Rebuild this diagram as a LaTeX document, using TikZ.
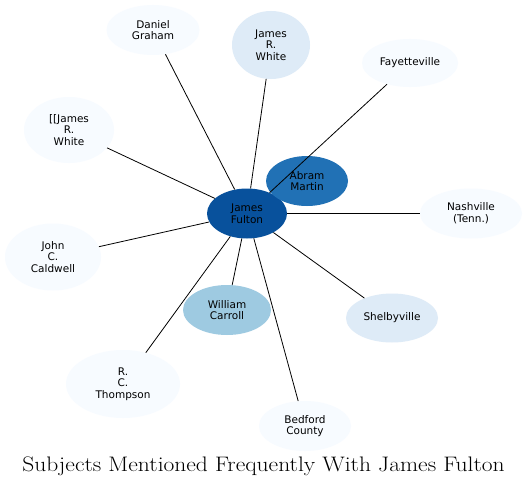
\documentclass[tikz,border=0pt]{standalone}
\usepackage{fontspec}
\newfontfamily\nodefont{DejaVu Sans}
\usetikzlibrary{shapes.geometric}
\definecolor{bluesa}{HTML}{F7FBFF}
\definecolor{bluesb}{HTML}{DEEBF7}
\definecolor{bluesc}{HTML}{9ECAE1}
\definecolor{bluesd}{HTML}{2171B5}
\definecolor{bluese}{HTML}{08519C}
\tikzset{
  subj/.style={ellipse, draw=none, inner sep=0pt, align=center,
    font=\nodefont\fontsize{10.5}{11.7}\selectfont},
  link/.style={line width=0.8pt}
}
\begin{document}
\begin{tikzpicture}[x=1pt,y=-1pt]
  \useasboundingbox[fill=white] (0,0) rectangle (527,487);
  % subjects
  \node[subj, fill=bluese, minimum width=80, minimum height=50] (fulton) at (247,213.5) {James\\Fulton};
  \node[subj, fill=bluesa, minimum width=93, minimum height=50] (graham) at (153,30) {Daniel\\Graham};
  \node[subj, fill=bluesb, minimum width=78, minimum height=68] (jrwhite) at (271,45) {James\\R.\\White};
  \node[subj, fill=bluesa, minimum width=96, minimum height=48] (fay) at (410,63) {Fayetteville};
  \node[subj, fill=bluesa, minimum width=90, minimum height=66] (jrwhiteb) at (69,130) {[[James\\R.\\White};
  \node[subj, fill=bluesd, minimum width=82, minimum height=50] (martin) at (307,181) {Abram\\Martin};
  \node[subj, fill=bluesa, minimum width=102, minimum height=50] (nash) at (471,213.5) {Nashville\\(Tenn.)};
  \node[subj, fill=bluesa, minimum width=96, minimum height=67] (caldwell) at (53,257) {John\\C.\\Caldwell};
  \node[subj, fill=bluesc, minimum width=88, minimum height=50] (carroll) at (227,310) {William\\Carroll};
  \node[subj, fill=bluesb, minimum width=92, minimum height=49] (shelby) at (392,318) {Shelbyville};
  \node[subj, fill=bluesa, minimum width=114, minimum height=68] (thompson) at (123,384) {R.\\C.\\Thompson};
  \node[subj, fill=bluesa, minimum width=92, minimum height=50] (bedford) at (305,426) {Bedford\\County};
  % links
  \draw[link] (fulton)--(graham)  (fulton)--(jrwhite)  (fulton)--(fay)
    (fulton)--(jrwhiteb)  (fulton)--(nash)  (fulton)--(caldwell)
    (fulton)--(carroll)  (fulton)--(shelby)  (fulton)--(thompson)
    (fulton)--(bedford);
  \node[font=\fontsize{21}{24}\selectfont] (title) at (263.5,466) {\scalebox{1.12}[1]{Subjects Mentioned Frequently With James Fulton}};
\end{tikzpicture}
\end{document}
